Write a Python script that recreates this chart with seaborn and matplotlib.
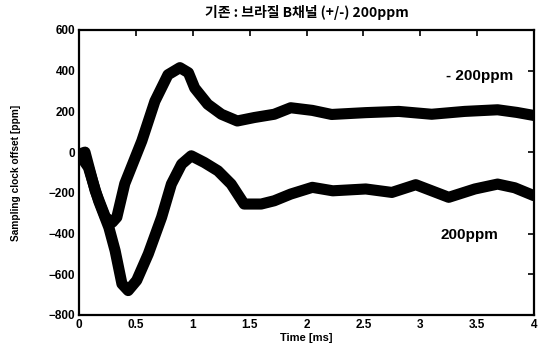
import numpy as np
import pandas as pd
import matplotlib
matplotlib.use("Agg")
import matplotlib.pyplot as plt
import seaborn as sns

# -200ppm curve (upper)
t_neg = [0.0, 0.05, 0.14, 0.23, 0.29, 0.33, 0.40, 0.55, 0.665, 0.78, 0.885, 0.96,
         1.015, 1.13, 1.25, 1.39, 1.54, 1.715, 1.86, 2.05, 2.22, 2.52, 2.81, 3.10,
         3.39, 3.68, 3.85, 4.0]
v_neg = [-10, 0, -190, -320, -345, -320, -155, 55, 250, 380, 415, 390,
         315, 235, 186, 153, 170, 186, 218, 205, 185, 194, 200, 186,
         200, 208, 195, 180]

# +200ppm curve (lower)
t_pos = [0.0, 0.08, 0.17, 0.26, 0.315, 0.375, 0.43, 0.505, 0.607, 0.724, 0.81, 0.90,
         0.985, 1.10, 1.22, 1.336, 1.45, 1.60, 1.715, 1.86, 2.05, 2.23, 2.52, 2.75,
         2.96, 3.25, 3.48, 3.68, 3.83, 4.0]
v_pos = [-10, -75, -240, -370, -484, -647, -680, -630, -500, -320, -157, -59,
         -18, -51, -92, -157, -255, -255, -239, -206, -173, -190, -181, -198,
         -160, -222, -181, -157, -175, -214]

title = "기존 : 브라질 B채널 (+/-) 200ppm"
xticks = [0, 0.5, 1, 1.5, 2, 2.5, 3, 3.5, 4]
xticklabels = ["0", "0.5", "1", "1.5", "2", "2.5", "3", "3.5", "4"]
yticks = [-800, -600, -400, -200, 0, 200, 400, 600]

df = pd.concat([
    pd.DataFrame({"t": t_neg, "v": v_neg, "s": "-200ppm"}),
    pd.DataFrame({"t": t_pos, "v": v_pos, "s": "200ppm"}),
])

sns.set_theme(style="white")
plt.rcParams['font.family'] = ['Liberation Sans', 'Noto Sans CJK KR', 'DejaVu Sans']
plt.rcParams['text.color'] = 'black'
plt.rcParams['axes.labelcolor'] = 'black'
plt.rcParams['xtick.color'] = 'black'
plt.rcParams['ytick.color'] = 'black'

fig = plt.figure(figsize=(5.41, 3.51), dpi=100)
ax = fig.add_axes([0.1466, 0.1026, 0.8404, 0.812])
sns.lineplot(data=df, x="t", y="v", hue="s", palette=["black", "black"],
             linewidth=8, legend=False, ax=ax, sort=False)

ax.set_xlim(0, 4)
ax.set_ylim(-800, 600)
ax.set_xticks(xticks)
ax.set_xticklabels(xticklabels)
ax.set_yticks(yticks)
ax.tick_params(direction="in", length=4, width=1.2, top=True, right=True,
               labelsize=8.5, pad=3, colors="black")
for lab in ax.get_xticklabels() + ax.get_yticklabels():
    lab.set_fontweight("bold")
for sp in ax.spines.values():
    sp.set_linewidth(1.6)
    sp.set_color("black")

ax.set_xlabel("Time [ms]", fontsize=8, fontweight="bold", labelpad=1, color="black")
ax.set_ylabel("Sampling clock offset [ppm]", fontsize=7.3, fontweight="bold",
              labelpad=20, color="black")
ax.set_title(title, fontsize=10, fontweight="bold", pad=9, color="black",
             family=['Noto Sans CJK KR', 'DejaVu Sans'])

ax.text(3.52, 374, "- 200ppm", fontsize=11, fontweight="bold", ha="center",
        va="center", color="black")
ax.text(3.43, -409, "200ppm", fontsize=11, fontweight="bold", ha="center",
        va="center", color="black")

fig.savefig("out.png", dpi=100)
